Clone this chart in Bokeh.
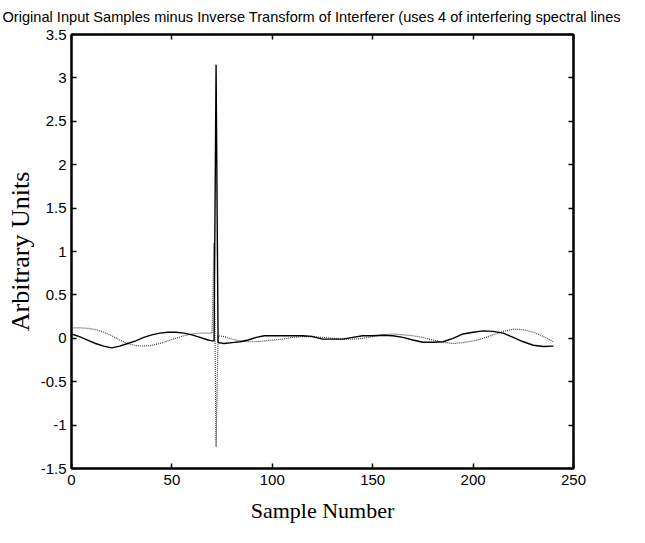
from bokeh.plotting import figure
from bokeh.models import LinearAxis, FixedTicker, Range1d, Title, CustomLabelingPolicy
from bokeh.embed import file_html
from bokeh.resources import INLINE

# ---- data ----
solid_x = [0, 4, 8, 12, 16, 20, 24, 28, 32, 36, 40, 44, 48, 52, 56, 60, 64, 68, 70, 71, 72, 73,
           76, 80, 84, 88, 92, 96, 100, 105, 110, 115, 120, 125, 130, 135, 140, 145, 150, 155,
           160, 165, 170, 175, 180, 185, 190, 195, 200, 205, 210, 215, 220, 225, 230, 235, 240]
solid_y = [0.05, 0.02, -0.02, -0.06, -0.09, -0.11, -0.09, -0.06, -0.03, 0.01, 0.04, 0.06, 0.07,
           0.07, 0.06, 0.04, 0.01, -0.02, -0.03, -0.03, 3.15, -0.05,
           -0.06, -0.05, -0.04, -0.02, 0.01, 0.03, 0.03, 0.03, 0.03, 0.03, 0.02, -0.01, -0.01,
           -0.01, 0.01, 0.03, 0.03, 0.035, 0.03, 0.01, -0.02, -0.045, -0.045, -0.04, 0.0, 0.05,
           0.07, 0.085, 0.08, 0.06, 0.01, -0.04, -0.08, -0.095, -0.09]

dotted_x = [0, 4, 8, 12, 16, 20, 24, 28, 32, 36, 40, 44, 48, 52, 56, 60, 64, 68, 70, 71, 72, 73,
            76, 80, 84, 88, 92, 96, 100, 105, 110, 115, 120, 125, 130, 135, 140, 145, 150, 155,
            160, 165, 170, 175, 180, 185, 190, 195, 200, 205, 210, 215, 220, 225, 230, 235, 240]
dotted_y = [0.12, 0.12, 0.115, 0.10, 0.07, 0.03, -0.02, -0.06, -0.085, -0.09, -0.08, -0.06,
            -0.03, 0.0, 0.03, 0.05, 0.06, 0.06, 0.06, 1.1, -1.25, 0.03,
            0.02, -0.01, -0.03, -0.04, -0.04, -0.03, -0.02, -0.01, 0.01, 0.02, 0.02, 0.01, 0.0,
            -0.01, -0.01, 0.0, 0.02, 0.04, 0.05, 0.04, 0.03, 0.01, -0.02, -0.045, -0.06, -0.05,
            -0.03, 0.0, 0.04, 0.08, 0.105, 0.1, 0.07, 0.02, -0.04]

x_ticks = [0, 50, 100, 150, 200, 250]
y_ticks = [-1.5, -1, -0.5, 0, 0.5, 1, 1.5, 2, 2.5, 3, 3.5]
y_tick_labels = ["-1.5", "-1", "-0.5", "0", "0.5", "1", "1.5", "2", "2.5", "3", "3.5"]

title_text = "Original Input Samples minus Inverse Transform of Interferer (uses 4 of interfering spectral lines"
x_label = "Sample Number"
y_label = "Arbitrary Units"

# ---- figure ----
p = figure(width=629, height=527, output_backend="svg", toolbar_location=None,
           x_range=Range1d(0, 250), y_range=Range1d(-1.5, 3.5),
           min_border_left=71, min_border_right=56, min_border_top=28, min_border_bottom=59)
p.title = None
p.grid.visible = False
p.background_fill_color = "white"
p.border_fill_color = "white"
p.outline_line_color = "black"
p.outline_line_width = 2

tick_font = "'Liberation Sans', Arial, sans-serif"

for ax in p.xaxis:
    ax.ticker = FixedTicker(ticks=x_ticks)
for ax in p.yaxis:
    ax.ticker = FixedTicker(ticks=y_ticks)
    ax.major_label_overrides = {t: l for t, l in zip(y_ticks, y_tick_labels)}

for ax in list(p.xaxis) + list(p.yaxis):
    ax.axis_line_color = "black"
    ax.axis_line_width = 2
    ax.major_tick_in = 5
    ax.major_tick_out = 0
    ax.major_tick_line_width = 1.5
    ax.minor_tick_line_color = None
    ax.major_label_text_font = tick_font
    ax.major_label_text_font_size = "15px"
    ax.major_label_text_color = "black"
    ax.axis_label_text_font = "'Liberation Serif', 'Times New Roman', serif"
    ax.axis_label_text_font_style = "normal"
    ax.axis_label_text_color = "black"

p.xaxis.axis_label = x_label
p.yaxis.axis_label = y_label
p.xaxis.axis_label_text_font_size = "22px"
p.yaxis.axis_label_text_font_size = "26px"
p.xaxis.major_label_standoff = 6
p.yaxis.major_label_standoff = 5
p.xaxis.axis_label_standoff = 10
p.yaxis.axis_label_standoff = 3

hide_all = CustomLabelingPolicy(code="""
const all = [...indices]
for (const i of all) { indices.unset(i) }
return indices
""")

# mirror axes (ticks only) on top and right
top_ax = LinearAxis(ticker=FixedTicker(ticks=x_ticks), major_label_policy=hide_all,
                    major_tick_in=5, major_tick_out=0, major_tick_line_width=1.5,
                    minor_tick_line_color=None, axis_line_width=2, major_label_standoff=0,
                    major_label_text_font_size="1px")
right_ax = LinearAxis(ticker=FixedTicker(ticks=y_ticks), major_label_policy=hide_all,
                      major_tick_in=5, major_tick_out=0, major_tick_line_width=1.5,
                      minor_tick_line_color=None, axis_line_width=2, major_label_standoff=0,
                      major_label_text_font_size="1px")
p.add_layout(top_ax, "above")
p.add_layout(right_ax, "right")

title = Title(text=title_text, text_font=tick_font, text_font_size="14.6px",
              text_font_style="normal", text_color="black", align="left", offset=-69,
              standoff=12)
p.add_layout(title, "above")

p.line(dotted_x, dotted_y, line_color="#444444", line_width=1.2, line_dash="1 1")
p.line(solid_x, solid_y, line_color="black", line_width=1.4)

open("out.html", "w").write(file_html(p, INLINE))
